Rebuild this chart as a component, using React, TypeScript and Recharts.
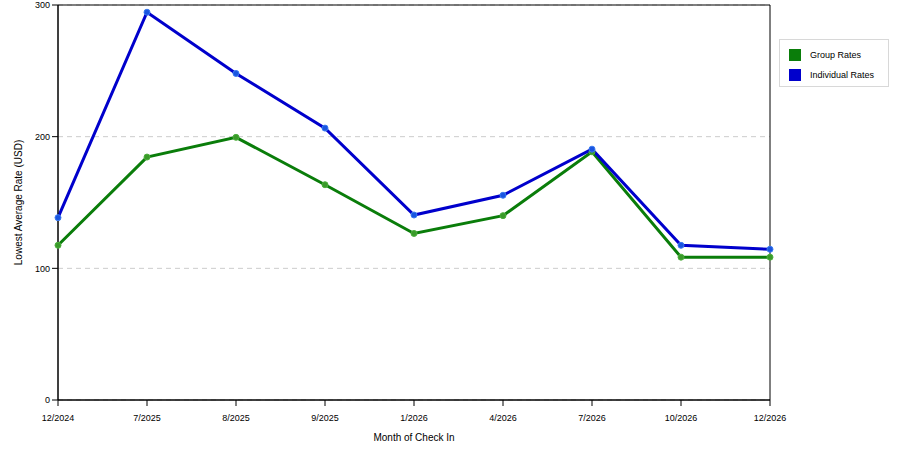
import React from "react";
import {
  LineChart,
  Line,
  XAxis,
  YAxis,
  CartesianGrid,
  ReferenceArea,
} from "recharts";

const months = ["12/2024", "7/2025", "8/2025", "9/2025", "1/2026", "4/2026", "7/2026", "10/2026", "12/2026"];
const groupRates = [117.5, 184.5, 199.5, 163.5, 126.5, 140, 188.5, 108.5, 108.5];
const individualRates = [138.5, 294.5, 248, 206.5, 140.5, 155.5, 190.5, 117.5, 114.5];
const yTicks = [0, 100, 200, 300];

const GREEN = "#0a7d0a";
const BLUE = "#0000cc";
const FONT = "'Liberation Sans', Arial, sans-serif";

const data = months.map((m, i) => ({
  month: m,
  group: groupRates[i],
  individual: individualRates[i],
}));

const legendItems = [
  { label: "Group Rates", color: GREEN },
  { label: "Individual Rates", color: BLUE },
];

const LegendBox = () => (
  <div
    style={{
      position: "absolute",
      left: 779,
      top: 39,
      width: 110,
      height: 48,
      border: "1px solid #d8d8d8",
      background: "#fff",
      boxSizing: "border-box",
      paddingTop: 5,
      paddingLeft: 9,
      fontFamily: FONT,
      fontSize: 9,
      color: "#000",
    }}
  >
    {legendItems.map((it) => (
      <div key={it.label} style={{ display: "flex", alignItems: "center", height: 20 }}>
        <div style={{ width: 12, height: 12, background: it.color, marginRight: 9 }} />
        <span>{it.label}</span>
      </div>
    ))}
  </div>
);

export default function App() {
  return (
    <div style={{ position: "absolute", left: 0, top: 0, width: 900, height: 450, background: "#fff" }}>
      <LineChart
        width={900}
        height={450}
        data={data}
        margin={{ top: 5, right: 130, bottom: 0, left: 0 }}
        style={{ fontFamily: FONT }}
      >
        <CartesianGrid vertical={false} stroke="#cccccc" strokeDasharray="5 4" />
        <ReferenceArea
          x1={months[0]}
          x2={months[months.length - 1]}
          y1={0}
          y2={300}
          fill="none"
          stroke="#000"
          strokeWidth={1}
          ifOverflow="visible"
        />
        <XAxis
          dataKey="month"
          height={50}
          stroke="#000"
          tickSize={6}
          tick={{ fill: "#000", fontSize: 9, fontFamily: FONT, dy: 7 }}
          tickLine={{ stroke: "#000" }}
          interval={0}
          label={{ value: "Month of Check In", position: "insideBottom", offset: 9, fill: "#000", fontSize: 10, fontFamily: FONT }}
        />
        <YAxis
          width={58}
          domain={[0, 300]}
          ticks={yTicks}
          stroke="#000"
          tickSize={6}
          tick={{ fill: "#000", fontSize: 9, fontFamily: FONT }}
          label={{
            value: "Lowest Average Rate (USD)",
            angle: -90,
            position: "insideLeft",
            offset: 18,
            style: { textAnchor: "middle", fill: "#000", fontSize: 10, fontFamily: FONT },
          }}
        />
        <Line
          type="linear"
          dataKey="group"
          name="Group Rates"
          stroke={GREEN}
          strokeWidth={3}
          dot={{ r: 3, fill: "#3a9a2a", stroke: "#4caf3c", strokeWidth: 1 }}
          isAnimationActive={false}
        />
        <Line
          type="linear"
          dataKey="individual"
          name="Individual Rates"
          stroke={BLUE}
          strokeWidth={3}
          dot={{ r: 3, fill: "#1a55e0", stroke: "#3a7af0", strokeWidth: 1 }}
          isAnimationActive={false}
        />
      </LineChart>
      <LegendBox />
    </div>
  );
}
